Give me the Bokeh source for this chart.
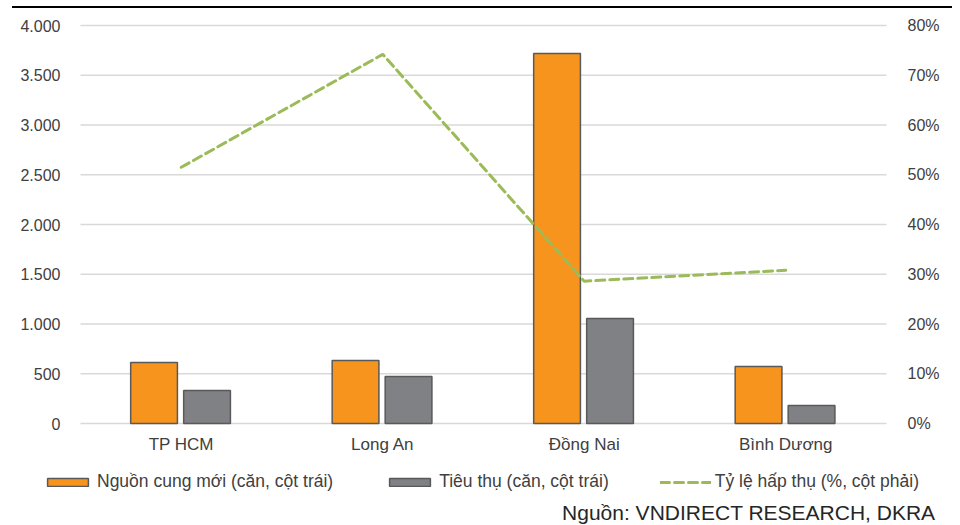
from bokeh.plotting import figure
from bokeh.models import (Range1d, LinearAxis, FixedTicker, Legend, LegendItem,
                          Label, ColumnDataSource)
from bokeh.transform import dodge
from bokeh.embed import file_html
from bokeh.resources import INLINE

categories = ["TP HCM", "Long An", "Đồng Nai", "Bình Dương"]
new_supply = [613, 633, 3719, 573]
absorbed = [332, 472, 1055, 181]
absorption_pct = [51.5, 74.2, 28.6, 30.8]

left_ticks = [0, 500, 1000, 1500, 2000, 2500, 3000, 3500, 4000]
left_labels = ["0", "500", "1.000", "1.500", "2.000", "2.500", "3.000", "3.500", "4.000"]
right_ticks = [0, 10, 20, 30, 40, 50, 60, 70, 80]
right_labels = ["0%", "10%", "20%", "30%", "40%", "50%", "60%", "70%", "80%"]

legend_labels = ["Nguồn cung mới (căn, cột trái)", "Tiêu thụ (căn, cột trái)", "Tỷ lệ hấp thụ (%, cột phải)"]
source_text = "Nguồn: VNDIRECT RESEARCH, DKRA"

FONT = "Liberation Sans"
TXT = "#404040"
ORANGE = "#F7941D"
GREY = "#808184"
EDGE = "#595959"
GREEN = "#9BBB59"

W, H = 952, 525
# pixel geometry of the plot area inside the canvas
PX_LEFT, PX_RIGHT, PX_TOP, PX_BOTTOM = 80, 886, 25, 423
n = len(categories)
xs = list(range(n))
ppx = (PX_RIGHT - PX_LEFT) / n                 # pixels per category
ppy = (PX_BOTTOM - PX_TOP) / left_ticks[-1]    # pixels per unit (left axis)
pct_scale = left_ticks[-1] / right_ticks[-1]

x_start = -0.5 - PX_LEFT / ppx
x_end = n - 0.5 + (W - PX_RIGHT) / ppx
y_start = -(H - PX_BOTTOM) / ppy
y_end = PX_BOTTOM / ppy

src = ColumnDataSource(dict(x=xs, supply=new_supply, absorbed=absorbed, pct=absorption_pct))

p = figure(width=W, height=H, x_range=Range1d(x_start, x_end), y_range=Range1d(y_start, y_end),
           output_backend="svg", toolbar_location=None,
           min_border_left=0, min_border_right=0, min_border_top=0, min_border_bottom=0,
           x_axis_type=None, y_axis_type=None,
           styles={"background": "linear-gradient(#000000, #000000) 12px 6px / 945px 2px no-repeat, #ffffff"})
p.extra_y_ranges = {"pct": Range1d(y_start / pct_scale, y_end / pct_scale)}
p.outline_line_color = None
p.background_fill_color = None
p.border_fill_color = None
p.grid.visible = False

# horizontal gridlines across the category area
p.segment(x0=-0.5, x1=n - 0.5, y0=left_ticks, y1=left_ticks, line_color="#d9d9d9", line_width=1.5)

r1 = p.vbar(x=dodge("x", -0.135), top="supply", width=0.232, source=src,
            fill_color=ORANGE, line_color=EDGE, line_width=1.5)
r2 = p.vbar(x=dodge("x", 0.128), top="absorbed", width=0.232, source=src,
            fill_color=GREY, line_color=EDGE, line_width=1.5)
r3 = p.line(x="x", y="pct", source=src, y_range_name="pct", line_color=GREEN,
            line_width=3, line_dash="9 5", line_cap="round")

ax_l = LinearAxis(fixed_location=-0.5, ticker=FixedTicker(ticks=left_ticks),
                  major_label_overrides={t: l for t, l in zip(left_ticks, left_labels)})
ax_r = LinearAxis(fixed_location=n - 0.5, y_range_name="pct", ticker=FixedTicker(ticks=right_ticks),
                  major_label_overrides={t: l for t, l in zip(right_ticks, right_labels)})
ax_b = LinearAxis(fixed_location=0, ticker=FixedTicker(ticks=xs),
                  major_label_overrides={i: c for i, c in zip(xs, categories)})
p.add_layout(ax_l, "left")
p.add_layout(ax_r, "right")
p.add_layout(ax_b, "below")

for ax in [ax_l, ax_r, ax_b]:
    ax.axis_line_color = None
    ax.major_tick_line_color = None
    ax.minor_tick_line_color = None
    ax.major_label_text_font = FONT
    ax.major_label_text_font_size = "16px"
    ax.major_label_text_color = TXT
ax_l.major_label_standoff = 14
ax_r.major_label_standoff = 15
ax_b.major_label_standoff = 5
ax_b.major_label_text_font_size = "17px"

legend = Legend(items=[LegendItem(label=legend_labels[0], renderers=[r1]),
                       LegendItem(label=legend_labels[1], renderers=[r2]),
                       LegendItem(label=legend_labels[2], renderers=[r3])],
                orientation="horizontal", location=(42, H - 482 - 10), padding=0, margin=0,
                border_line_color=None, background_fill_alpha=0,
                glyph_width=51, glyph_height=10, label_standoff=4, spacing=51,
                label_text_font=FONT, label_text_font_size="17.5px", label_text_color=TXT)
p.add_layout(legend, "center")

p.add_layout(Label(x=935, y=H - 512, x_units="screen", y_units="screen", text=source_text,
                   text_align="right", text_baseline="middle", text_font=FONT,
                   text_font_size="21px", text_color="#262626"))

open("out.html", "w").write(file_html(p, INLINE))
